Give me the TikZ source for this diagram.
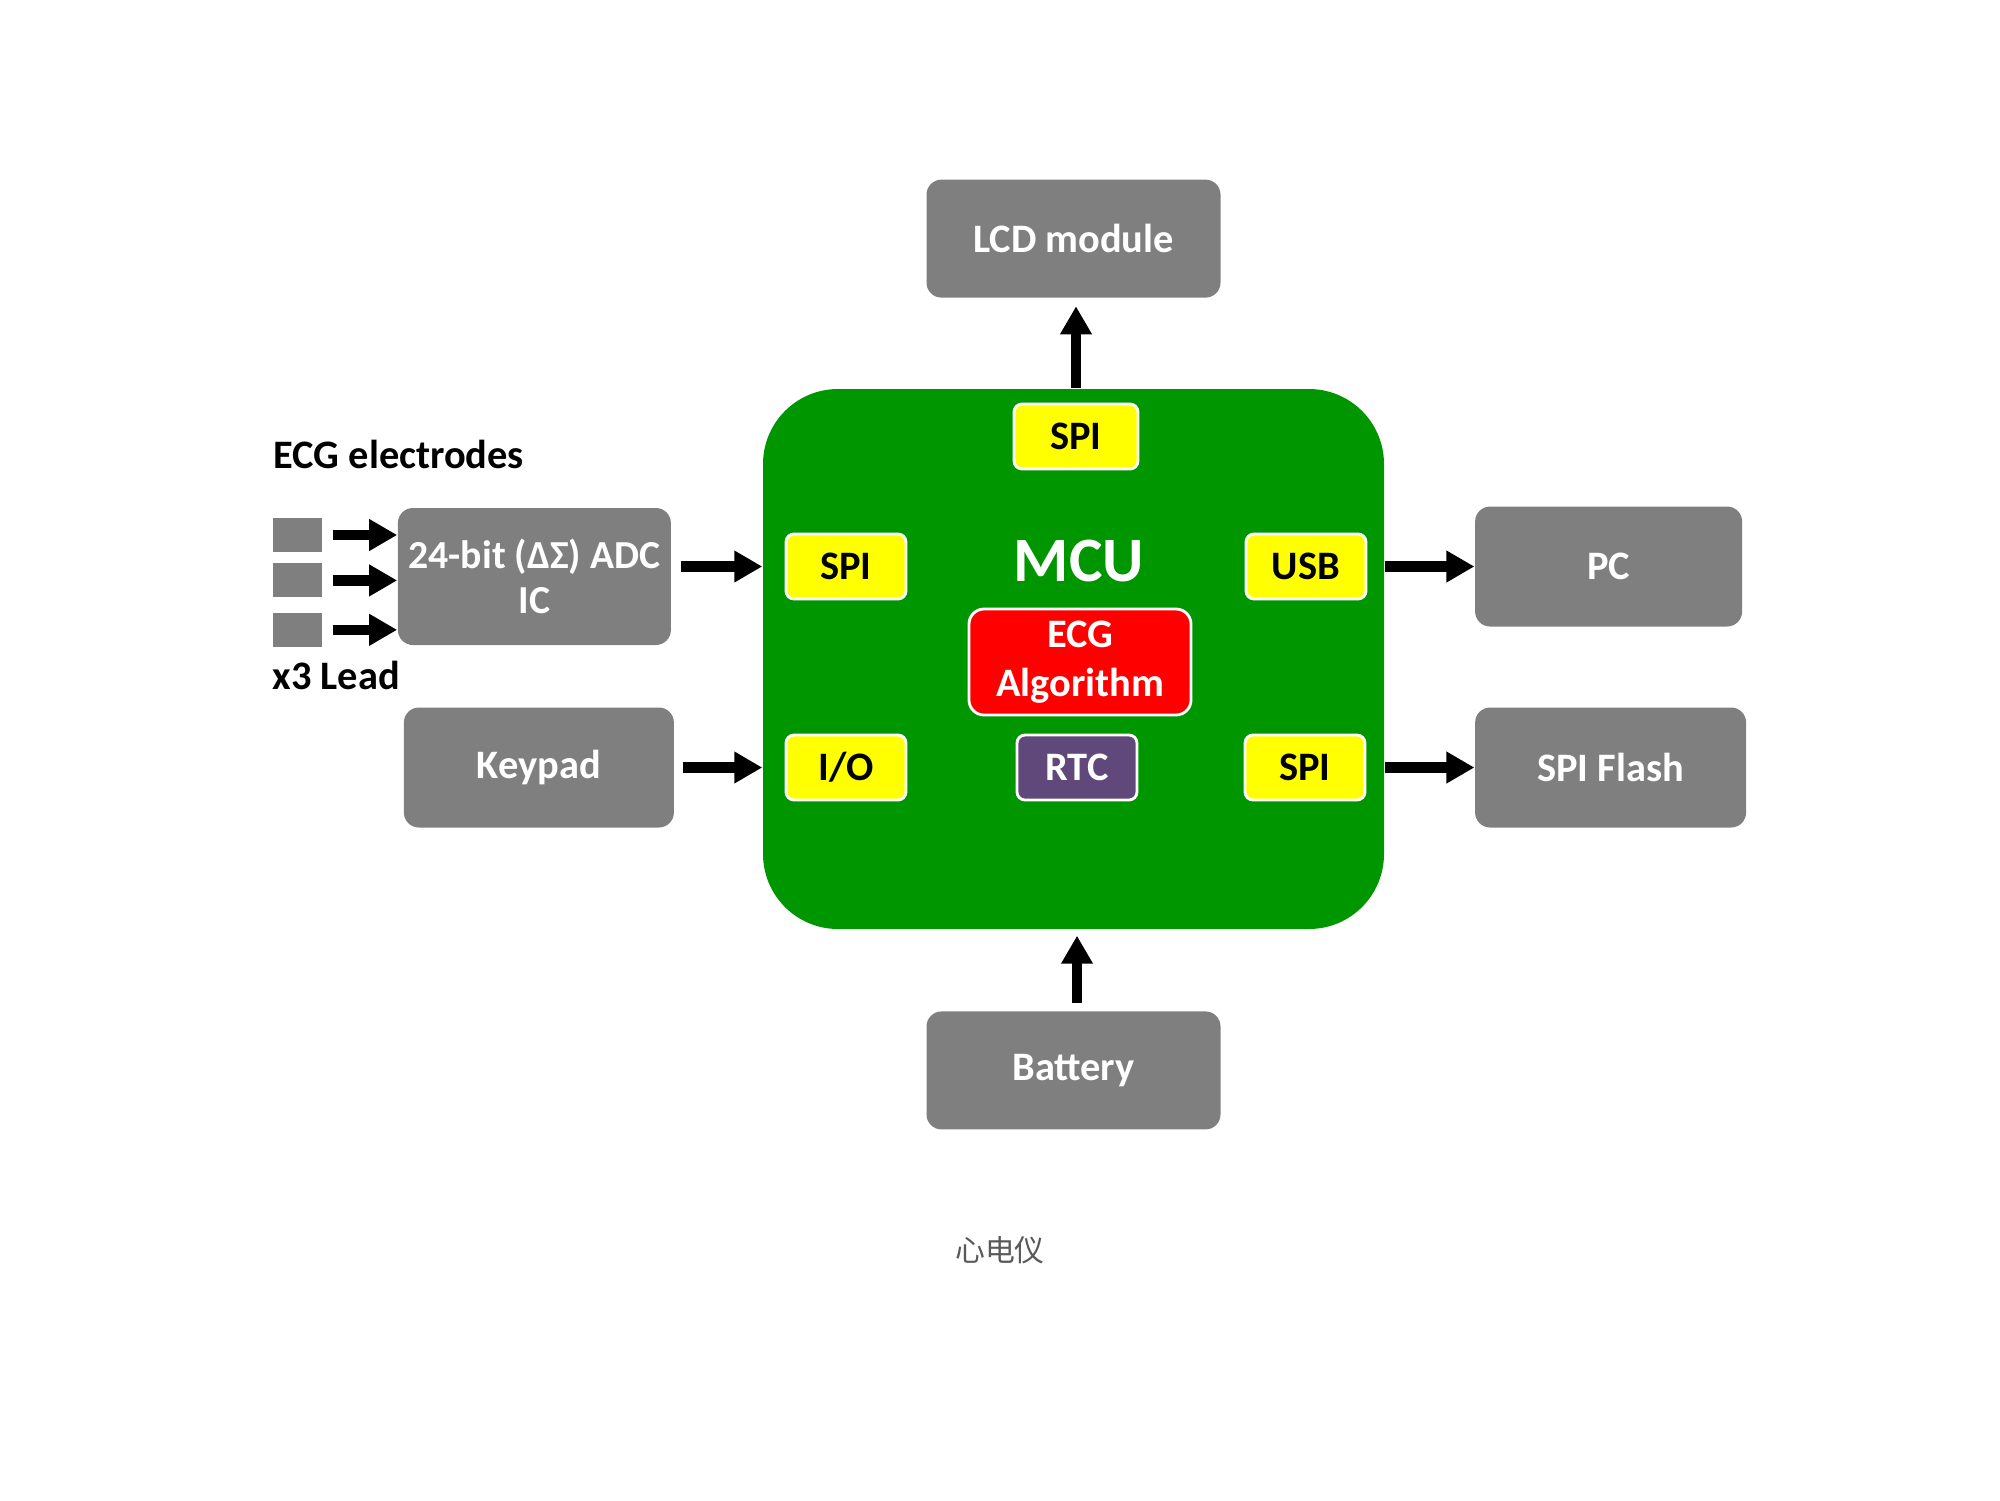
\documentclass[tikz,border=0pt]{standalone}
\usepackage{fontspec}
\setmainfont{Carlito}
\newfontfamily\cjkfont{Noto Sans CJK SC}
\usetikzlibrary{arrows.meta, positioning}

\definecolor{boxgray}{RGB}{127,127,127}
\definecolor{mcugreen}{RGB}{0,150,0}
\definecolor{portyellow}{RGB}{255,255,0}
\definecolor{algred}{RGB}{255,0,0}
\definecolor{rtcpurple}{RGB}{96,73,122}
\definecolor{captiongray}{RGB}{89,89,89}

\begin{document}
\begin{tikzpicture}[font={\bfseries\fontsize{11.5}{14}\selectfont}, align=center,
    blk/.style={fill=boxgray, text=white, rounded corners=0.15cm, minimum width=2.94cm, minimum height=1.18cm, align=center},
    port/.style={fill=portyellow, draw=white, line width=0.8pt, rounded corners=0.08cm, minimum width=1.2cm, minimum height=0.65cm},
    lead/.style={fill=boxgray, minimum width=0.49cm, minimum height=0.34cm, inner sep=0pt},
    arrow/.style={-{Triangle[length=0.28cm, width=0.30cm]}, line width=3pt}
]
    \useasboundingbox (0,0) rectangle (20,-15);
    % MCU and its ports
    \node[fill=mcugreen, rounded corners=0.75cm, minimum width=6.21cm, minimum height=5.40cm] (mcu) at (10.735,-6.59) {};
    \node[text=white, font={\bfseries\fontsize{18}{22}\selectfont}] (mcutxt) at (10.79,-5.61) {MCU};
    \node[port, minimum width=1.24cm] (spit) at (10.76,-4.365) {SPI};
    \node[port] (spil) at (8.46,-5.665) {SPI};
    \node[port] (usb) at (13.06,-5.665) {USB};
    \node[port] (io) at (8.46,-7.675) {I/O};
    \node[port, fill=rtcpurple, text=white] (rtc) at (10.77,-7.675) {RTC};
    \node[port] (spir) at (13.05,-7.675) {SPI};
    \node[fill=algred, text=white, draw=white, line width=0.8pt, rounded corners=0.15cm, minimum width=2.22cm, minimum height=1.04cm] (alg) at (10.80,-6.62) {ECG\\Algorithm};

    % outer blocks
    \node[blk, above=0.9cm of mcu] (lcd) {LCD module};
    \node[blk, below=0.81cm of mcu] (bat) {Battery};
    \node[blk, minimum width=2.67cm, minimum height=1.20cm, right=1.07cm of usb] (pc) {PC};
    \node[blk, minimum width=2.71cm, minimum height=1.20cm, right=1.08cm of spir] (flash) {SPI Flash};
    \node[blk, minimum width=2.70cm, minimum height=1.20cm, left=1.10cm of io] (key) {Keypad};
    \node[blk, minimum width=2.73cm, minimum height=1.37cm, inner xsep=0pt, left=1.13cm of spil, yshift=-0.1cm,
        font={\bfseries\fontsize{11.3}{12.8}\selectfont}] (adc) {24-bit (ΔΣ) ADC\\IC};

    % electrodes
    \node[lead] (e1) at (2.975,-5.35) {};
    \node[lead, below=0.1cm of e1] (e2) {};
    \node[lead, below=0.14cm of e2] (e3) {};
    \node[anchor=base west, inner sep=0pt] (elabel) at (2.73,-4.68) {ECG electrodes};
    \node[anchor=base west, inner sep=0pt] (leadlabel) at (2.72,-6.89) {x3 Lead};

    \foreach \e in {e1,e2,e3}
        \draw[arrow, shorten <=0.1cm] (\e.east) -- (\e.east -| adc.west);
    \draw[arrow, shorten <=0.09cm] (adc.east |- spil) -- (mcu.west |- spil);
    \draw[arrow, shorten <=0.08cm] (key.east) -- (mcu.west |- io);
    \draw[arrow, shorten >=0.08cm] (spit |- mcu.north) -- (spit |- lcd.south);
    \draw[arrow, shorten <=0.08cm, shorten >=0.06cm] (rtc |- bat.north) -- (rtc |- mcu.south);
    \draw[arrow] (mcu.east |- usb) -- (pc.west);
    \draw[arrow] (mcu.east |- spir) -- (flash.west);

    \node[text=captiongray, font={\cjkfont\fontsize{8.5}{10}\selectfont}] (caption) at (10.0,-12.5) {心电仪};
\end{tikzpicture}
\end{document}
